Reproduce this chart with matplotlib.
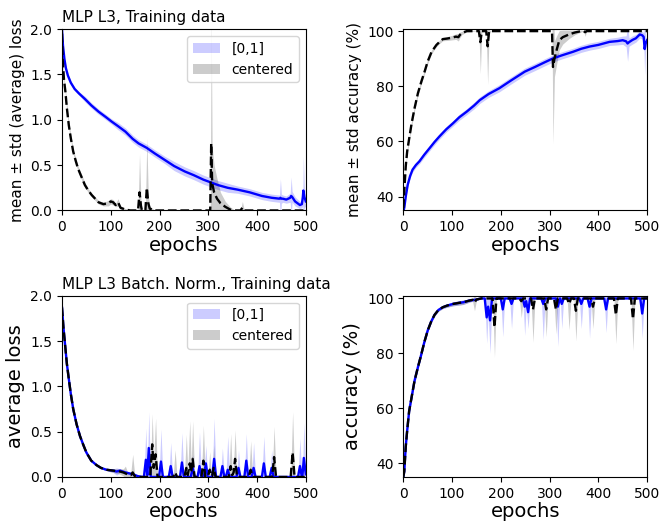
import numpy as np
import matplotlib
matplotlib.use("Agg")
import matplotlib.pyplot as plt

# ---- MLP L3, loss (top left) ----
ep_tl_b = [0, 2, 5, 8, 12, 18, 26, 35, 47, 60, 75, 90, 102, 115, 130, 145, 157, 174, 190, 210,
           230, 252, 270, 290, 305, 320, 340, 360, 385, 410, 430, 446, 448, 450, 453, 460, 468, 470,
           472, 478, 488, 492, 494, 495, 497, 500]
loss_tl_b = [2.0, 1.82, 1.67, 1.57, 1.49, 1.41, 1.34, 1.29, 1.23, 1.16, 1.09, 1.03, 0.98, 0.93, 0.87,
             0.79, 0.74, 0.69, 0.63, 0.56, 0.49, 0.43, 0.39, 0.34, 0.31, 0.28, 0.25, 0.23, 0.2, 0.16,
             0.14, 0.13, 0.14, 0.13, 0.13, 0.12, 0.14, 0.16, 0.15, 0.1, 0.06, 0.07, 0.15, 0.22, 0.15, 0.1]
std_tl_b = [0.01, 0.02, 0.02, 0.02, 0.02, 0.02, 0.02, 0.02, 0.03, 0.03, 0.03, 0.03, 0.03, 0.04, 0.04,
            0.04, 0.04, 0.04, 0.04, 0.04, 0.05, 0.05, 0.05, 0.05, 0.05, 0.05, 0.05, 0.04, 0.04, 0.04,
            0.04, 0.04, 0.21, 0.05, 0.04, 0.04, 0.05, 0.21, 0.06, 0.05, 0.04, 0.04, 0.1, 0.38, 0.12, 0.05]

ep_tl_c = [0, 1, 4, 7, 10, 14, 18, 23, 28, 33, 40, 47, 54, 61, 68, 75, 85, 95, 100, 105,
           110, 115, 120, 130, 140, 156, 159, 162, 164, 171, 174, 177, 180, 190, 304, 306, 308, 312,
           318, 325, 335, 345, 355, 366, 370, 374, 500]
loss_tl_c = [1.95, 1.7, 1.45, 1.31, 1.13, 0.94, 0.8, 0.65, 0.55, 0.46, 0.37, 0.28, 0.22, 0.17, 0.13,
             0.09, 0.07, 0.08, 0.1, 0.09, 0.06, 0.09, 0.03, 0.01, 0.0, 0.0, 0.2, 0.05, 0.0, 0.0,
             0.25, 0.08, 0.02, 0.0, 0.0, 0.74, 0.3, 0.2, 0.13, 0.08, 0.04, 0.01, 0.0, 0.0, 0.03, 0.0, 0.0]
std_tl_c = [0.05, 0.05, 0.04, 0.04, 0.04, 0.04, 0.03, 0.03, 0.03, 0.03, 0.03, 0.03, 0.02, 0.02, 0.02,
            0.02, 0.02, 0.03, 0.03, 0.03, 0.02, 0.04, 0.02, 0.01, 0.0, 0.0, 0.43, 0.06, 0.0, 0.0,
            0.55, 0.08, 0.03, 0.0, 0.0, 1.4, 0.4, 0.3, 0.22, 0.12, 0.06, 0.03, 0.0, 0.0, 0.07, 0.0, 0.0]

# ---- MLP L3, accuracy (top right) ----
ep_tr_b = [0, 2, 5, 9, 14, 19, 26, 33, 43, 54, 64, 74, 88, 102, 115, 130, 145, 157, 175, 197,
           220, 249, 270, 290, 307, 325, 348, 365, 382, 400, 423, 440, 450, 457, 460, 463, 470, 477,
           485, 490, 493, 495, 497, 500]
acc_tr_b = [34.5, 36, 40, 44.3, 47.5, 49.8, 51.5, 52.8, 55.2, 57.6, 59.8, 61.8, 64.4, 66.6, 68.8,
            70.8, 73, 75, 77.2, 79.3, 82, 85.3, 87, 88.7, 90.1, 91.2, 92.5, 93.6, 94.4, 95,
            96.1, 96.4, 96.7, 96.3, 95.5, 96, 96.8, 97.4, 98.8, 98.5, 97.9, 93.5, 95.5, 96.7]
std_tr_b = [0.5, 0.6, 0.7, 0.8, 0.8, 0.9, 0.9, 0.9, 1.0, 1.0, 1.0, 1.0, 1.0, 1.0, 1.1,
            1.1, 1.2, 1.2, 1.2, 1.3, 1.3, 1.3, 1.3, 1.3, 1.3, 1.3, 1.3, 1.3, 1.3, 1.3,
            1.3, 1.4, 1.5, 2.0, 6.5, 1.5, 1.5, 1.4, 1.3, 1.4, 1.5, 9.5, 2.0, 1.5]

ep_tr_c = [0, 2, 5, 8, 12, 17, 23, 30, 37, 44, 50, 58, 68, 75, 81, 90, 99, 108, 113, 116,
           120, 130, 155, 158, 161, 170, 173, 176, 180, 305, 307, 310, 315, 320, 327, 340, 352, 365,
           370, 373, 376, 500]
acc_tr_c = [35.9, 42, 51, 56.5, 61, 66.5, 72, 77.5, 81.7, 85.5, 89, 92.5, 95, 96.2, 97.1,
            97.3, 97.6, 98, 97.8, 98.6, 99.3, 100, 100, 96, 100, 100, 94.5, 100, 100, 100,
            87, 90, 93.5, 96.7, 97.8, 98.8, 99.5, 100, 100, 99.6, 100, 100]
std_tr_c = [0.5, 0.8, 1.0, 1.0, 1.0, 1.0, 1.0, 0.9, 0.9, 0.8, 0.8, 0.7, 0.6, 0.6, 0.6,
            0.7, 0.8, 1.0, 1.4, 1.0, 0.6, 0.3, 0.0, 11.5, 0.0, 0.0, 14, 0.5, 0.0, 0.0,
            28, 6.5, 5, 3.5, 2.5, 1.5, 0.8, 0.3, 0.0, 1.5, 0.0, 0.0]

# ---- MLP L3 Batch. Norm., loss (bottom left) ----
ep_bl_b = [0, 3, 7, 10, 14, 18, 23, 30, 37, 44, 50, 60, 71, 80, 91, 105, 112, 119, 130, 146,
           155, 165, 168, 172, 175, 178, 182, 199, 203, 207, 219, 223, 227, 242, 246, 250, 264, 268,
           272, 278, 282, 286, 291, 295, 299, 308, 312, 316, 325, 329, 333, 336, 340, 344, 358, 362,
           366, 374, 378, 382, 389, 393, 397, 410, 414, 418, 426, 430, 434, 484, 488, 492, 493, 496, 500]
loss_bl_b = [1.87, 1.65, 1.42, 1.25, 1.08, 0.92, 0.75, 0.58, 0.45, 0.35, 0.27, 0.18, 0.13, 0.1, 0.08,
             0.07, 0.06, 0.07, 0.05, 0.03, 0.01, 0.0, 0.0, 0.19, 0.02, 0.32, 0.0, 0.0, 0.17, 0.0,
             0.0, 0.12, 0.0, 0.0, 0.16, 0.0, 0.0, 0.1, 0.0, 0.0, 0.12, 0.0, 0.0, 0.15, 0.0,
             0.0, 0.2, 0.0, 0.0, 0.12, 0.0, 0.0, 0.08, 0.0, 0.0, 0.1, 0.0, 0.0, 0.18, 0.0,
             0.0, 0.1, 0.0, 0.0, 0.15, 0.0, 0.0, 0.1, 0.0, 0.0, 0.12, 0.0, 0.0, 0.21, 0.03]
std_bl_b = [0.02, 0.02, 0.02, 0.02, 0.02, 0.02, 0.02, 0.02, 0.02, 0.02, 0.02, 0.01, 0.01, 0.01, 0.01,
            0.02, 0.04, 0.02, 0.02, 0.01, 0.01, 0.0, 0.0, 0.35, 0.05, 0.4, 0.0, 0.0, 0.36, 0.0,
            0.0, 0.26, 0.0, 0.0, 0.33, 0.0, 0.0, 0.15, 0.0, 0.0, 0.38, 0.0, 0.0, 0.2, 0.0,
            0.0, 0.45, 0.0, 0.0, 0.2, 0.0, 0.0, 0.37, 0.0, 0.0, 0.2, 0.0, 0.0, 0.3, 0.0,
            0.0, 0.28, 0.0, 0.0, 0.3, 0.0, 0.0, 0.2, 0.0, 0.0, 0.31, 0.0, 0.0, 0.39, 0.03]

ep_bl_c = [0, 3, 7, 10, 14, 18, 23, 30, 37, 44, 50, 60, 71, 80, 91, 105, 119, 126, 130, 134,
           141, 145, 149, 155, 165, 181, 185, 188, 192, 196, 228, 232, 236, 251, 255, 258, 262, 265,
           268, 272, 286, 290, 294, 299, 303, 306, 308, 311, 315, 342, 346, 349, 352, 355, 359, 383,
           387, 391, 431, 435, 439, 469, 473, 477, 500]
loss_bl_c = [1.87, 1.65, 1.42, 1.25, 1.08, 0.92, 0.75, 0.58, 0.45, 0.35, 0.27, 0.18, 0.13, 0.1, 0.08,
             0.07, 0.06, 0.05, 0.04, 0.03, 0.02, 0.05, 0.01, 0.0, 0.0, 0.0, 0.36, 0.1, 0.25, 0.0,
             0.0, 0.05, 0.0, 0.0, 0.1, 0.02, 0.15, 0.05, 0.2, 0.0, 0.0, 0.18, 0.0, 0.0, 0.08,
             0.01, 0.01, 0.1, 0.0, 0.0, 0.12, 0.02, 0.05, 0.2, 0.0, 0.0, 0.08, 0.0, 0.0, 0.22,
             0.0, 0.0, 0.27, 0.0, 0.0]
std_bl_c = [0.02, 0.02, 0.02, 0.02, 0.02, 0.02, 0.02, 0.02, 0.02, 0.02, 0.02, 0.01, 0.01, 0.01, 0.01,
            0.02, 0.03, 0.04, 0.08, 0.03, 0.02, 0.2, 0.02, 0.0, 0.0, 0.0, 0.34, 0.1, 0.4, 0.0,
            0.0, 0.25, 0.0, 0.0, 0.37, 0.05, 0.47, 0.1, 0.42, 0.0, 0.0, 0.39, 0.0, 0.0, 0.2,
            0.0, 0.0, 0.25, 0.0, 0.0, 0.36, 0.05, 0.1, 0.32, 0.0, 0.0, 0.32, 0.0, 0.0, 0.34,
            0.0, 0.0, 0.45, 0.0, 0.0]

# ---- MLP L3 Batch. Norm., accuracy (bottom right) ----
ep_br_b = [0, 2, 5, 8, 12, 17, 23, 30, 36, 43, 50, 57, 64, 72, 81, 90, 102, 115, 123, 135,
           150, 160, 167, 171, 174, 178, 182, 200, 204, 208, 218, 222, 226, 245, 249, 252, 256, 260,
           283, 287, 291, 313, 317, 321, 322, 325, 329, 361, 365, 369, 378, 382, 386, 412, 416, 420,
           486, 490, 494, 500]
acc_br_b = [35, 37, 46, 52, 59, 64, 70, 75, 79, 84, 88.3, 91.5, 94, 95.8, 96.8, 97.4, 98, 98.4, 98.6, 99.2,
            99.6, 100, 100, 93.1, 97, 92, 100, 100, 96, 100, 100, 98, 100, 100, 97, 99, 95, 100,
            100, 98, 100, 100, 97, 100, 100, 98, 100, 100, 98, 100, 100, 97, 100, 100, 96, 100,
            100, 94.5, 100, 100]
std_br_b = [1.0, 1.0, 1.0, 1.0, 1.0, 1.0, 1.0, 0.9, 0.8, 0.7, 0.6, 0.5, 0.5, 0.5, 0.5, 0.6, 0.7, 0.8, 0.8, 0.6,
            0.4, 0.0, 0.0, 9.5, 3, 12, 0.0, 0.0, 10, 0.0, 0.0, 9, 0.0, 0.0, 10.5, 2, 6, 0.0,
            0.0, 13, 0.0, 0.0, 14.5, 0.0, 0.0, 9, 0.0, 0.0, 9, 0.0, 0.0, 11.5, 0.0, 0.0, 8.5, 0.0,
            0.0, 9, 0.0, 0.0]

ep_br_c = [0, 2, 5, 8, 12, 17, 23, 30, 36, 43, 50, 57, 64, 72, 81, 90, 102, 115, 123, 135,
           142, 146, 150, 160, 183, 187, 191, 238, 242, 246, 262, 266, 270, 289, 293, 297, 309, 313,
           317, 336, 340, 344, 350, 354, 358, 385, 389, 393, 432, 436, 440, 467, 471, 475, 500]
acc_br_c = [35, 37, 46, 52, 59, 64, 70, 75, 79, 84, 88.3, 91.5, 94, 95.8, 96.8, 97.4, 98, 98.4, 98.6, 99.2,
            99.5, 98.5, 99.6, 100, 100, 89.5, 100, 100, 99, 100, 100, 96, 100, 100, 96, 100, 100, 96,
            100, 100, 98, 100, 100, 95.5, 100, 100, 97, 100, 100, 94, 100, 100, 92.5, 100, 100]
std_br_c = [1.0, 1.0, 1.0, 1.0, 1.0, 1.0, 1.0, 0.9, 0.8, 0.7, 0.6, 0.5, 0.5, 0.5, 0.5, 0.6, 0.7, 0.8, 0.8, 0.6,
            0.4, 3, 0.4, 0.0, 0.0, 11, 0.0, 0.0, 6, 0.0, 0.0, 12, 0.0, 0.0, 10, 0.0, 0.0, 9,
            0.0, 0.0, 9.5, 0.0, 0.0, 11, 0.0, 0.0, 8, 0.0, 0.0, 10.5, 0.0, 0.0, 11.5, 0.0, 0.0]


def dibujar(ax, ep_b, m_b, s_b, ep_c, m_c, s_c):
    m_b, s_b = np.array(m_b), np.array(s_b)
    m_c, s_c = np.array(m_c), np.array(s_c)
    ax.fill_between(ep_b, m_b - s_b, m_b + s_b, color='b', alpha=0.2, lw=0, label='[0,1]')
    ax.fill_between(ep_c, m_c - s_c, m_c + s_c, color='k', alpha=0.2, lw=0, label='centered')
    ax.plot(ep_b, m_b, 'b-', lw=1.7)
    ax.plot(ep_c, m_c, 'k--', lw=1.7)
    ax.set_xlim(0, 500)
    ax.set_xticks([0, 100, 200, 300, 400, 500])
    ax.tick_params(labelsize=10)
    ax.set_xlabel("epochs", fontsize=14, labelpad=1)


fig, axs = plt.subplots(2, 2, figsize=(6.63, 5.21), dpi=100)
plt.subplots_adjust(left=0.0935, right=0.976, bottom=0.0845, top=0.944, wspace=0.40, hspace=0.47)

ax = axs[0, 0]
dibujar(ax, ep_tl_b, loss_tl_b, std_tl_b, ep_tl_c, loss_tl_c, std_tl_c)
ax.set_ylim(0, 2.0)
ax.set_yticks([0.0, 0.5, 1.0, 1.5, 2.0])
ax.set_ylabel("mean ± std (average) loss", fontsize=11)
ax.set_title("MLP L3, Training data", loc='left', fontsize=11, pad=5)
ax.legend(loc='upper right', fontsize=10)

ax = axs[0, 1]
dibujar(ax, ep_tr_b, acc_tr_b, std_tr_b, ep_tr_c, acc_tr_c, std_tr_c)
ax.set_ylim(35, 100.7)
ax.set_yticks([40, 60, 80, 100])
ax.set_ylabel("mean ± std accuracy (%)", fontsize=11)

ax = axs[1, 0]
dibujar(ax, ep_bl_b, loss_bl_b, std_bl_b, ep_bl_c, loss_bl_c, std_bl_c)
ax.set_ylim(0, 2.0)
ax.set_yticks([0.0, 0.5, 1.0, 1.5, 2.0])
ax.set_ylabel("average loss", fontsize=14)
ax.set_title("MLP L3 Batch. Norm., Training data", loc='left', fontsize=11, pad=5)
ax.legend(loc='upper right', fontsize=10)

ax = axs[1, 1]
dibujar(ax, ep_br_b, acc_br_b, std_br_b, ep_br_c, acc_br_c, std_br_c)
ax.set_ylim(35, 101)
ax.set_yticks([40, 60, 80, 100])
ax.set_ylabel("accuracy (%)", fontsize=14)

plt.savefig("out.png", dpi=100)
